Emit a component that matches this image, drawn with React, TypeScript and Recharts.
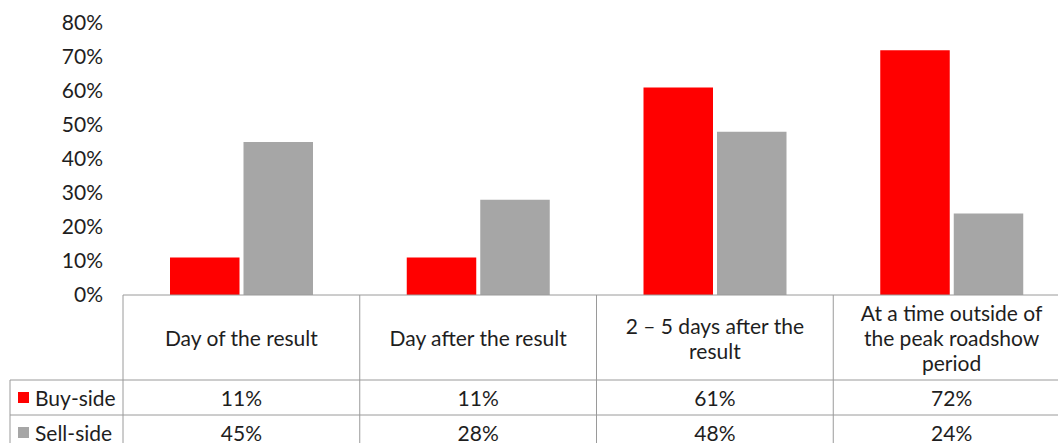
import React from 'react';
import { BarChart, Bar, XAxis, YAxis } from 'recharts';

// Timing categories, wrapped the way they appear in the table header
const categoryLines: string[][] = [
  ['Day of the result'],
  ['Day after the result'],
  ['2 – 5 days after the', 'result'],
  ['At a time outside of', 'the peak roadshow', 'period'],
];
const categories = categoryLines.map((l) => l.join(' '));

// Share of respondents (%)
const buySide = [11, 11, 61, 72];
const sellSide = [45, 28, 48, 24];

const seriesNames = ['Buy-side', 'Sell-side'];
const seriesColors = ['#ff0000', '#a6a6a6'];

const yTicks = [0, 10, 20, 30, 40, 50, 60, 70, 80];

const data = categories.map((name, i) => ({
  name,
  buy: buySide[i],
  sell: sellSide[i],
}));

const FONT = 'Lato, "Open Sans", sans-serif';
const TEXT = '#1e1e1e';
const GRID = '#9a9a9a';
const FS = 21;

// table geometry (relative to the axis line)
const HEADER_H = 85;
const ROW_H = 35;
const LEGEND_W = 113;

const pct = (v: number) => `${v}%`;

// Each x-axis tick renders one column of the data table below the plot
const TableTick = (props: any) => {
  const { x, y, payload, index, width, visibleTicksCount } = props;
  const half =
    typeof width === 'number' && visibleTicksCount
      ? width / visibleTicksCount / 2
      : payload.offset;
  const left = x - half;
  const right = x + half;
  const bottom = y + HEADER_H + ROW_H * 2;
  const lines = categoryLines[index] || [payload.value];
  const lh = 25;
  const cy = y + HEADER_H / 2;
  const rows = [buySide[index], sellSide[index]];
  const isFirst = index === 0;
  const isLast = index === categories.length - 1;

  return (
    <g>
      {isFirst && <line x1={left} y1={y} x2={left} y2={bottom} stroke={GRID} strokeWidth={1} />}
      {!isLast && <line x1={right} y1={y} x2={right} y2={bottom} stroke={GRID} strokeWidth={1} />}
      <line x1={left} y1={y + HEADER_H} x2={right} y2={y + HEADER_H} stroke={GRID} strokeWidth={1} />
      <line x1={left} y1={y + HEADER_H + ROW_H} x2={right} y2={y + HEADER_H + ROW_H} stroke={GRID} strokeWidth={1} />
      {lines.map((t, k) => (
        <text
          key={k}
          x={x}
          y={cy + (k - (lines.length - 1) / 2) * lh}
          textAnchor="middle"
          dominantBaseline="central"
          fontFamily={FONT}
          fontSize={FS}
          fill={TEXT}
        >
          {t}
        </text>
      ))}
      {rows.map((v, r) => (
        <text
          key={r}
          x={x}
          y={y + HEADER_H + ROW_H * r + ROW_H / 2}
          textAnchor="middle"
          dominantBaseline="central"
          fontFamily={FONT}
          fontSize={FS}
          fill={TEXT}
        >
          {pct(v)}
        </text>
      ))}
      {isFirst && (
        <g>
          <line x1={left - LEGEND_W} y1={y + HEADER_H} x2={left} y2={y + HEADER_H} stroke={GRID} strokeWidth={1} />
          <line x1={left - LEGEND_W} y1={y + HEADER_H + ROW_H} x2={left} y2={y + HEADER_H + ROW_H} stroke={GRID} strokeWidth={1} />
          <line x1={left - LEGEND_W} y1={y + HEADER_H} x2={left - LEGEND_W} y2={bottom} stroke={GRID} strokeWidth={1} />
          {seriesNames.map((s, r) => {
            const ry = y + HEADER_H + ROW_H * r + ROW_H / 2;
            return (
              <g key={s}>
                <rect x={left - LEGEND_W + 8} y={ry - 5.5} width={11} height={11} fill={seriesColors[r]} />
                <text
                  x={left - LEGEND_W + 25}
                  y={ry}
                  dominantBaseline="central"
                  fontFamily={FONT}
                  fontSize={FS}
                  fill={TEXT}
                >
                  {s}
                </text>
              </g>
            );
          })}
        </g>
      )}
    </g>
  );
};

export default function App() {
  return (
    <div
      style={{
        position: 'absolute',
        left: 0,
        top: 0,
        width: 1058,
        height: 443,
        overflow: 'hidden',
        background: '#fff',
      }}
    >
      <BarChart
        width={1070}
        height={460}
        data={data}
        margin={{ top: 23, right: 0, bottom: 0, left: 0 }}
        barSize={69.5}
        barGap={4}
      >
        <YAxis
          type="number"
          domain={[0, 80]}
          ticks={yTicks}
          tickFormatter={pct}
          width={123}
          axisLine={false}
          tickLine={false}
          tickSize={0}
          tickMargin={20}
          tick={{ fontFamily: FONT, fontSize: FS, fill: TEXT }}
        />
        <XAxis
          dataKey="name"
          height={165}
          interval={0}
          tickLine={false}
          tickSize={0}
          tickMargin={0}
          axisLine={{ stroke: GRID, strokeWidth: 1 }}
          tick={<TableTick />}
        />
        <Bar dataKey="buy" name={seriesNames[0]} fill={seriesColors[0]} isAnimationActive={false} />
        <Bar dataKey="sell" name={seriesNames[1]} fill={seriesColors[1]} isAnimationActive={false} />
      </BarChart>
    </div>
  );
}
